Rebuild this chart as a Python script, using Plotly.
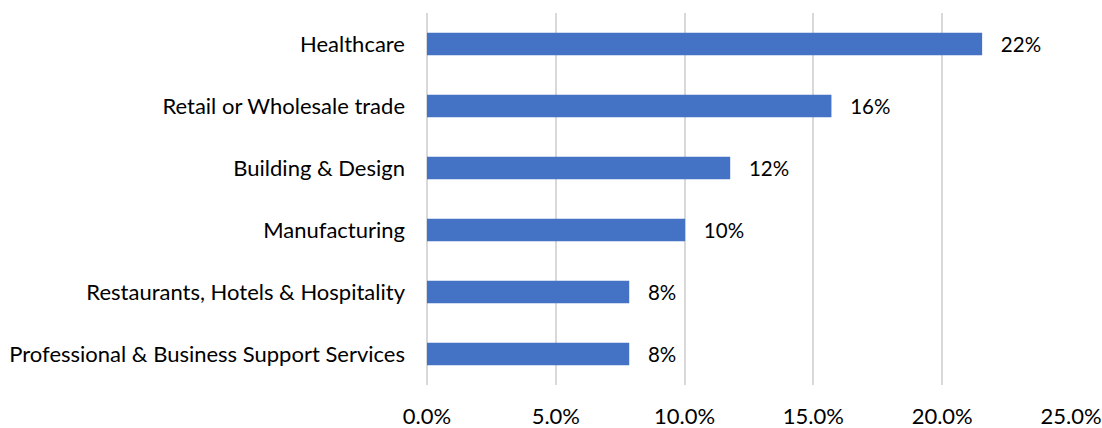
import plotly.graph_objects as go

categories = [
    "Professional & Business Support Services",
    "Restaurants, Hotels & Hospitality",
    "Manufacturing",
    "Building & Design",
    "Retail or Wholesale trade",
    "Healthcare",
]
values = [0.0785, 0.0785, 0.1002, 0.1177, 0.1570, 0.2155]
tick_vals = [0, 0.05, 0.10, 0.15, 0.20, 0.25]
tick_text = ["0.0%", "5.0%", "10.0%", "15.0%", "20.0%", "25.0%"]

FONT = "Lato"
FS = 22
pad = "\u00a0" * 3
labels = [pad + f"{round(v * 100):.0f}%" for v in values]

fig = go.Figure(
    go.Bar(
        x=values,
        y=categories,
        orientation="h",
        marker=dict(color="#4472C4", line=dict(width=0)),
        text=labels,
        textposition="outside",
        constraintext="none",
        textfont=dict(family=FONT, size=20.5, color="#000000"),
        cliponaxis=False,
        hoverinfo="x+y",
    )
)

fig.update_layout(
    width=1102,
    height=428,
    margin=dict(l=427, r=31, t=13, b=43, autoexpand=False),
    paper_bgcolor="white",
    plot_bgcolor="white",
    bargap=0.634,
    showlegend=False,
    font=dict(family=FONT, size=FS, color="#000000"),
    xaxis=dict(
        range=[0, 0.25],
        tickvals=tick_vals,
        ticktext=tick_text,
        showgrid=True,
        gridcolor="#d9d9d9",
        gridwidth=1.5,
        zeroline=True,
        zerolinecolor="#d9d9d9",
        zerolinewidth=1.5,
        showline=False,
        ticks="",
        automargin=False,
        ticklabelstandoff=16,
        tickfont=dict(family=FONT, size=FS, color="#000000"),
    ),
    yaxis=dict(
        showgrid=False,
        zeroline=False,
        showline=False,
        ticks="",
        automargin=False,
        ticklabelstandoff=21,
        tickfont=dict(family=FONT, size=FS, color="#000000"),
    ),
)

fig.write_html(
    "out.html",
    config={"displayModeBar": False},
    post_script="document.body.style.margin='0';document.body.style.overflow='hidden';",
)
